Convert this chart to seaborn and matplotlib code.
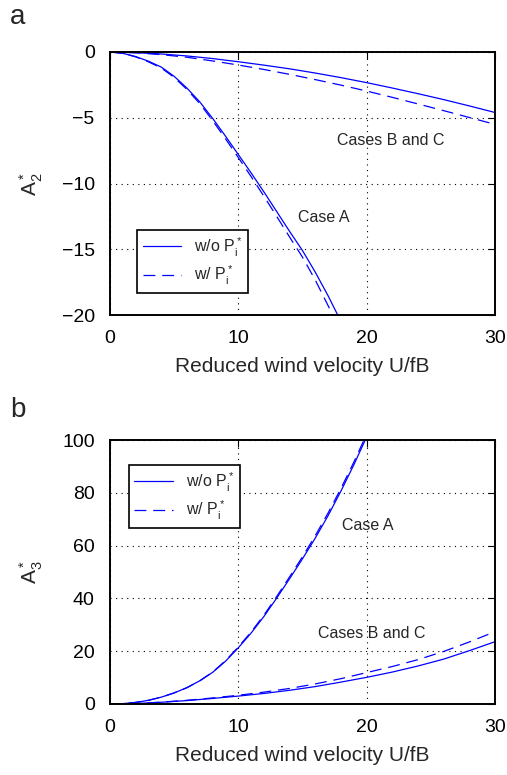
import numpy as np
import pandas as pd
import matplotlib
matplotlib.use("Agg")
import matplotlib.pyplot as plt
import seaborn as sns

# ---------------- data ----------------
# Panel a: A2*
a_caseA_x = [0, 1, 2, 3, 4, 5, 6, 7, 8, 9, 10, 11, 12, 13, 14, 15, 16, 17, 18]
a_caseA_wo = [0, -0.1, -0.35, -0.7, -1.15, -1.85, -2.75, -3.8, -5.05, -6.4, -7.8,
              -9.2, -10.65, -12.15, -13.65, -15.1, -16.75, -18.55, -20.5]
a_caseA_w = [0, -0.1, -0.37, -0.75, -1.22, -1.93, -2.85, -3.93, -5.22, -6.6, -8.03,
             -9.48, -10.98, -12.52, -14.08, -15.6, -17.35, -19.3, -21.3]
a_caseBC_x = [0, 2, 4, 6, 8, 10, 12, 14, 16, 18, 20, 22, 24, 26, 28, 30]
a_caseBC_wo = [0, -0.05, -0.15, -0.3, -0.5, -0.74, -1.0, -1.28, -1.6, -1.95, -2.33,
               -2.74, -3.17, -3.62, -4.1, -4.6]
a_caseBC_w = [0, -0.06, -0.2, -0.4, -0.68, -0.99, -1.33, -1.7, -2.1, -2.52, -2.97,
              -3.45, -3.95, -4.46, -4.98, -5.5]

# Panel b: A3*
b_caseA_x = [0, 1, 2, 3, 4, 5, 6, 7, 8, 9, 10, 11, 12, 13, 14, 15, 16, 17, 18, 19, 20]
b_caseA_wo = [0, 0.15, 0.6, 1.4, 2.6, 4.2, 6.2, 8.8, 12.0, 16.2, 21.3, 26.9, 33.2, 40.2,
              47.5, 55.0, 62.9, 71.4, 80.7, 90.6, 101.2]
b_caseA_w = [0, 0.15, 0.6, 1.4, 2.6, 4.2, 6.2, 8.8, 12.1, 16.4, 21.6, 27.3, 33.7, 40.8,
             48.2, 55.8, 63.8, 72.4, 81.7, 91.6, 102.2]
b_caseBC_x = [0, 2, 4, 6, 8, 10, 12, 14, 16, 18, 20, 22, 24, 26, 28, 30]
b_caseBC_wo = [0, 0.2, 0.65, 1.3, 2.1, 3.0, 4.0, 5.2, 6.6, 8.3, 10.1, 12.1, 14.4, 17.0,
               20.2, 23.6]
b_caseBC_w = [0, 0.2, 0.7, 1.4, 2.3, 3.3, 4.5, 5.9, 7.6, 9.6, 11.9, 14.2, 16.8, 19.9,
              23.5, 27.4]

x_ticks = [0, 10, 20, 30]
a_yticks = [0, -5, -10, -15, -20]
b_yticks = [0, 20, 40, 60, 80, 100]
xlabel = "Reduced wind velocity U/fB"
leg_wo = r"w/o $\mathregular{P_i^*}$"
leg_w = r"w/ $\mathregular{P_i^*}$"

# ---------------- style ----------------
sns.set_style("white")
plt.rcParams["font.family"] = ["Liberation Sans", "DejaVu Sans"]
plt.rcParams["mathtext.fontset"] = "custom"
plt.rcParams["mathtext.rm"] = "Liberation Sans"

FS = 14
FSL = 15
BLUE = "#0000FF"
LW = 0.9
DASH = (9.5, 5.5)

fig = plt.figure(figsize=(5.07, 7.75), dpi=100)
W, H = 507, 775
def add_ax(l, t, r, b):
    return fig.add_axes([l / W, 1 - b / H, (r - l) / W, (b - t) / H])

ax_a = add_ax(110, 52, 495, 315)
ax_b = add_ax(110, 440, 495, 704)


def draw_pair(ax, x, y_wo, y_w, label=True):
    d1 = pd.DataFrame({"x": x, "y": y_wo})
    d2 = pd.DataFrame({"x": x, "y": y_w})
    sns.lineplot(data=d1, x="x", y="y", ax=ax, color=BLUE, lw=LW,
                 label=leg_wo if label else None, sort=False, estimator=None)
    sns.lineplot(data=d2, x="x", y="y", ax=ax, color=BLUE, lw=LW,
                 label=leg_w if label else None, sort=False, estimator=None)
    ax.lines[-1].set_dashes(DASH)


draw_pair(ax_a, a_caseA_x, a_caseA_wo, a_caseA_w, True)
draw_pair(ax_a, a_caseBC_x, a_caseBC_wo, a_caseBC_w, False)
draw_pair(ax_b, b_caseA_x, b_caseA_wo, b_caseA_w, True)
draw_pair(ax_b, b_caseBC_x, b_caseBC_wo, b_caseBC_w, False)

ax_a.set_xlim(0, 30)
ax_a.set_ylim(-20, 0)
ax_b.set_xlim(0, 30)
ax_b.set_ylim(0, 100)
ax_a.set_yticks(a_yticks)
ax_a.set_yticklabels([str(v).replace("-", "\u2212") for v in a_yticks])
ax_b.set_yticks(b_yticks)

for ax in (ax_a, ax_b):
    ax.set_xticks(x_ticks)
    ax.grid(True, color="black", linestyle=(0, (1, 4)), linewidth=0.8)
    ax.tick_params(direction="in", length=5, width=0.8, labelsize=FS, pad=11,
                   top=True, right=True, colors="black")
    for s in ax.spines.values():
        s.set_linewidth(1.4)
        s.set_color("black")
    ax.set_xlabel(xlabel, fontsize=FSL, labelpad=7)

ax_a.set_ylabel(r"$\mathregular{A_2^*}$", fontsize=FSL, labelpad=12)
ax_b.set_ylabel(r"$\mathregular{A_3^*}$", fontsize=FSL, labelpad=12)

ANN = 11.5
ax_a.text(17.7, -6.7, "Cases B and C", fontsize=ANN, va="center", ha="left")
ax_a.text(14.65, -12.6, "Case A", fontsize=ANN, va="center", ha="left")
ax_b.text(18.06, 67.8, "Case A", fontsize=ANN, va="center", ha="left")
ax_b.text(16.2, 26.8, "Cases B and C", fontsize=ANN, va="center", ha="left")

for ax, anchor in ((ax_a, (0.07, 0.084)), (ax_b, (0.049, 0.667))):
    leg = ax.legend(loc="lower left", bbox_to_anchor=anchor, fontsize=11.5,
                    frameon=True, fancybox=False, framealpha=1, edgecolor="black",
                    handlelength=2.4, borderpad=0.35, labelspacing=0.35,
                    handletextpad=0.8, borderaxespad=0)
    leg.get_frame().set_linewidth(1.2)
    leg.get_lines()[1].set_dashes(DASH)

fig.text(10 / W, 1 - 17 / H, "a", fontsize=20, va="center", ha="left")
fig.text(10 / W, 1 - 410 / H, "b", fontsize=20, va="center", ha="left")

fig.savefig("out.png", dpi=100)
